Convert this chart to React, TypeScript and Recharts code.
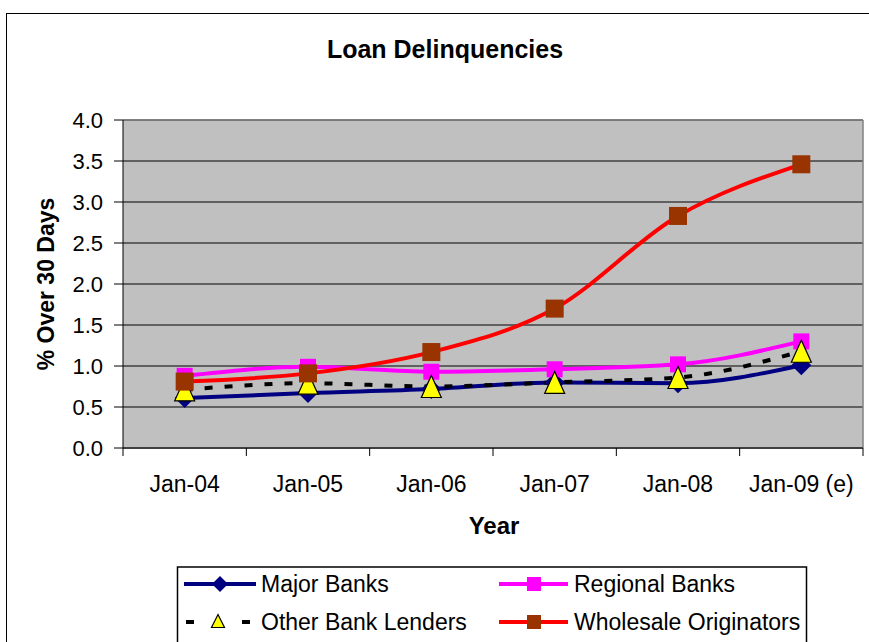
import React from "react";
import { LineChart, Line, XAxis, YAxis, CartesianGrid } from "recharts";

// Datos
const MONTHS = ["Jan-04", "Jan-05", "Jan-06", "Jan-07", "Jan-08", "Jan-09 (e)"];
const MAJOR_BANKS = [0.61, 0.67, 0.72, 0.8, 0.79, 1.01];
const REGIONAL_BANKS = [0.88, 0.99, 0.93, 0.96, 1.02, 1.3];
const OTHER_BANK_LENDERS = [0.71, 0.79, 0.75, 0.8, 0.86, 1.18];
const WHOLESALE_ORIGINATORS = [0.81, 0.91, 1.17, 1.7, 2.83, 3.46];
const Y_TICKS = [0, 0.5, 1, 1.5, 2, 2.5, 3, 3.5, 4];

const data = MONTHS.map((month, i) => ({
  month,
  major: MAJOR_BANKS[i],
  regional: REGIONAL_BANKS[i],
  other: OTHER_BANK_LENDERS[i],
  wholesale: WHOLESALE_ORIGINATORS[i],
}));

const W = 869;
const H = 642;
const MARGIN = { top: 120, right: 6, bottom: 144, left: 0 };
const Y_W = 123;
const BAND = (W - MARGIN.left - MARGIN.right - Y_W) / MONTHS.length;
const FONT = "'Liberation Sans', Arial, sans-serif";

// Marcadores
const diamond = (fill: string, r: number) => (props: any) => {
  const { cx, cy, index } = props;
  if (cx == null || cy == null) return <g key={index} />;
  return (
    <path
      key={index}
      d={`M${cx},${cy - r} L${cx + r},${cy} L${cx},${cy + r} L${cx - r},${cy} Z`}
      fill={fill}
    />
  );
};

const square = (fill: string, s: number) => (props: any) => {
  const { cx, cy, index } = props;
  if (cx == null || cy == null) return <g key={index} />;
  return <rect key={index} x={cx - s / 2} y={cy - s / 2} width={s} height={s} fill={fill} />;
};

const triangle = (fill: string, w: number, h: number) => (props: any) => {
  const { cx, cy, index } = props;
  if (cx == null || cy == null) return <g key={index} />;
  return (
    <path
      key={index}
      d={`M${cx},${cy - h / 2} L${cx + w / 2},${cy + h / 2} L${cx - w / 2},${cy + h / 2} Z`}
      fill={fill}
      stroke="#000"
      strokeWidth={1.2}
      strokeLinejoin="miter"
    />
  );
};

const XTick = (props: any) => {
  const { x, y, payload, index } = props;
  const half = BAND / 2;
  return (
    <g>
      <line x1={x - half} x2={x - half} y1={y} y2={y + 8} stroke="#000" />
      {index === MONTHS.length - 1 && (
        <line x1={x + half} x2={x + half} y1={y} y2={y + 8} stroke="#000" />
      )}
      <text x={x} y={y + 44} textAnchor="middle" fontSize={23} fill="#000" fontFamily={FONT}>
        {payload.value}
      </text>
    </g>
  );
};

const YTick = (props: any) => {
  const { x, y, payload } = props;
  return (
    <text x={x} y={y} dy="0.36em" textAnchor="end" fontSize={22} fill="#000" fontFamily={FONT}>
      {payload.value.toFixed(1)}
    </text>
  );
};

const LegendOverlay = () => (
  <svg width={W} height={H} style={{ position: "absolute", left: 0, top: 0 }}>
    <text x={445} y={58} textAnchor="middle" fontSize={25} fontWeight="bold" fontFamily={FONT}>
      Loan Delinquencies
    </text>
    <text
      transform="translate(54,284) rotate(-90)"
      textAnchor="middle"
      fontSize={23}
      fontWeight="bold"
      fontFamily={FONT}
    >
      % Over 30 Days
    </text>
    <text x={494} y={534} textAnchor="middle" fontSize={24} fontWeight="bold" fontFamily={FONT}>
      Year
    </text>

    <rect x={177.5} y={567} width={629} height={120} fill="#fff" stroke="#000" strokeWidth={1.5} />

    {/* Major Banks */}
    <line x1={184} x2={256} y1={584} y2={584} stroke="#000080" strokeWidth={4} />
    {diamond("#000080", 8)({ cx: 220, cy: 584, index: "lm" })}
    <text x={261} y={592} fontSize={23} fontFamily={FONT}>Major Banks</text>

    {/* Regional Banks */}
    <line x1={499} x2={568} y1={584} y2={584} stroke="#ff00ff" strokeWidth={4} />
    {square("#ff00ff", 14)({ cx: 534, cy: 584, index: "lr" })}
    <text x={574} y={592} fontSize={23} fontFamily={FONT}>Regional Banks</text>

    {/* Other Bank Lenders */}
    <line x1={186} x2={194} y1={622} y2={622} stroke="#000" strokeWidth={4} />
    <line x1={242} x2={250} y1={622} y2={622} stroke="#000" strokeWidth={4} />
    {triangle("#ffff00", 13, 13)({ cx: 218, cy: 621, index: "lo" })}
    <text x={261} y={630} fontSize={23} fontFamily={FONT}>Other Bank Lenders</text>

    {/* Wholesale Originators */}
    <line x1={499} x2={568} y1={622} y2={622} stroke="#ff0000" strokeWidth={4} />
    {square("#993300", 14)({ cx: 534, cy: 622, index: "lw" })}
    <text x={574} y={630} fontSize={23} fontFamily={FONT}>Wholesale Originators</text>
  </svg>
);

export default function App() {
  return (
    <div
      style={{
        position: "absolute",
        left: 0,
        top: 0,
        width: W,
        height: H,
        overflow: "hidden",
        background: "#fff",
        fontFamily: FONT,
      }}
    >
      <div
        style={{
          position: "absolute",
          left: 6,
          top: 13,
          width: 1000,
          height: 1000,
          border: "1.5px solid #000",
        }}
      />
      <div style={{ position: "absolute", left: 0, top: 0 }}>
        <LineChart width={W} height={H} data={data} margin={MARGIN}>
          <CartesianGrid vertical={false} stroke="#000" fill="#c0c0c0" fillOpacity={1} />
          <CartesianGrid
            horizontalPoints={[MARGIN.top]}
            verticalPoints={[W - MARGIN.right]}
            stroke="#808080"
            strokeWidth={1.5}
          />
          <XAxis
            dataKey="month"
            interval={0}
            height={50}
            padding={{ left: BAND / 2, right: BAND / 2 }}
            tickSize={0}
            tickMargin={0}
            tickLine={false}
            axisLine={{ stroke: "#404040", strokeWidth: 2 }}
            tick={<XTick />}
          />
          <YAxis
            width={Y_W}
            domain={[0, 4]}
            ticks={Y_TICKS}
            interval={0}
            tickSize={9}
            tickMargin={11}
            tickLine={{ stroke: "#000" }}
            axisLine={{ stroke: "#000" }}
            tick={<YTick />}
          />
          <Line
            dataKey="major"
            type="monotone"
            stroke="#000080"
            strokeWidth={4}
            dot={diamond("#000080", 10)}
            activeDot={false}
            isAnimationActive={false}
          />
          <Line
            dataKey="regional"
            type="monotone"
            stroke="#ff00ff"
            strokeWidth={4}
            dot={square("#ff00ff", 16)}
            activeDot={false}
            isAnimationActive={false}
          />
          <Line
            dataKey="other"
            type="monotone"
            stroke="#000"
            strokeWidth={4}
            strokeDasharray="8 12"
            dot={triangle("#ffff00", 20, 22)}
            activeDot={false}
            isAnimationActive={false}
          />
          <Line
            dataKey="wholesale"
            type="monotone"
            stroke="#ff0000"
            strokeWidth={4}
            dot={square("#993300", 18)}
            activeDot={false}
            isAnimationActive={false}
          />
        </LineChart>
      </div>
      <LegendOverlay />
    </div>
  );
}
